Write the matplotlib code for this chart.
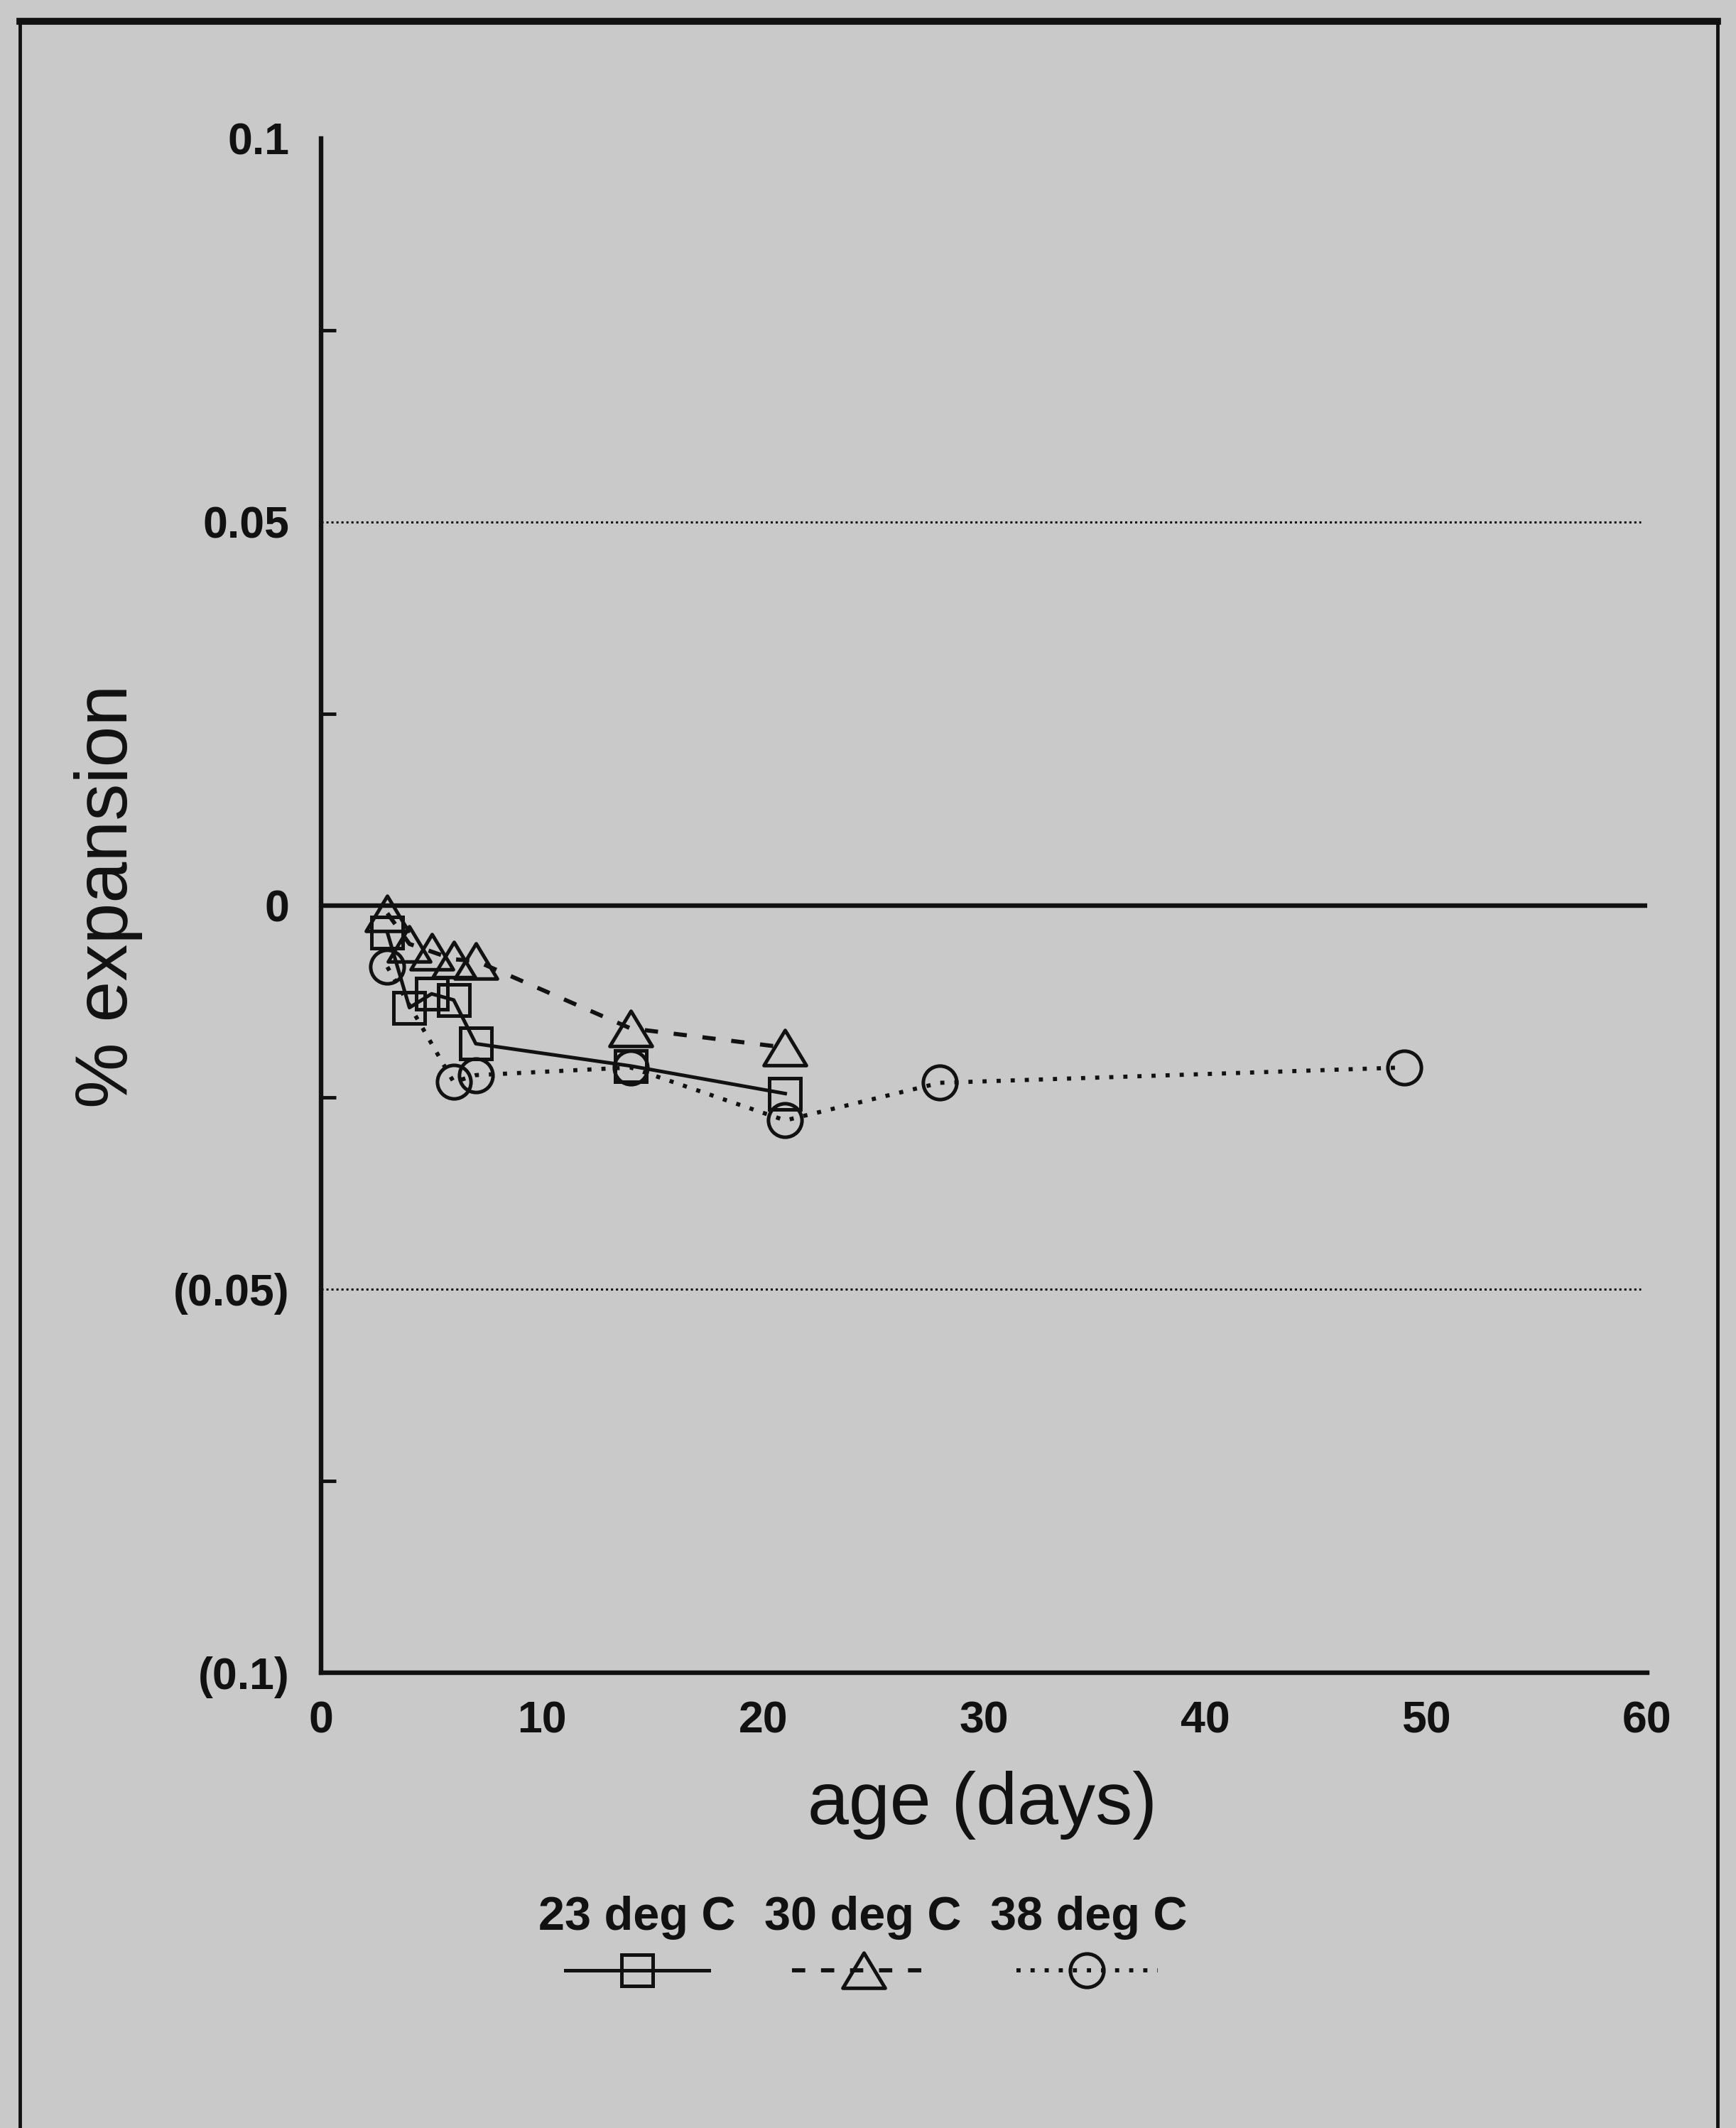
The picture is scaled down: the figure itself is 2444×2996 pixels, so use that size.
import matplotlib
matplotlib.use("Agg")
import matplotlib.pyplot as plt
from matplotlib.lines import Line2D
from matplotlib.path import Path

plt.rcParams['font.family'] = ['Liberation Sans', 'DejaVu Sans']

# expansion readings (%), negative = shrinkage
days_23 = [3, 4, 5, 6, 7, 14, 21]
exp_23 = [-0.0035, -0.0133, -0.0115, -0.0123, -0.018, -0.0209, -0.0245]

days_30 = [3, 4, 5, 6, 7, 14, 21]
exp_30 = [-0.001, -0.005, -0.006, -0.007, -0.0072, -0.016, -0.0185]

days_38 = [3, 6, 7, 14, 21, 28, 49]
exp_38 = [-0.008, -0.023, -0.0221, -0.0211, -0.028, -0.0231, -0.0211]

series_labels = ['23 deg C', '30 deg C', '38 deg C']
ytick_vals = [-0.1, -0.05, 0, 0.05, 0.1]
ytick_text = ['(0.1)', '(0.05)', '0', '0.05', '0.1']
xtick_vals = [0, 10, 20, 30, 40, 50, 60]

BG = '#c9c9c9'
INK = '#111111'
W, H = 2444, 2996

tri = Path([(-1, -0.83), (1, -0.83), (0, 0.83), (-1, -0.83)], closed=True)

styles = [
    dict(ls='-', marker='s', ms=32, lw=3.6),
    dict(ls=(0, (3.2, 3.8)), marker=tri, ms=43, lw=4.2),
    dict(ls=(0, (1, 2.4)), marker='o', ms=34, lw=4.2),
]

fig = plt.figure(figsize=(W / 100, H / 100), dpi=100, facecolor=BG)

ax = fig.add_axes([452 / W, 1 - 2355 / H, (2319 - 452) / W, (2355 - 195) / H])
ax.set_facecolor(BG)

for (d, v), st in zip([(days_23, exp_23), (days_30, exp_30), (days_38, exp_38)], styles):
    ax.plot(d, v, color=INK, linestyle=st['ls'], lw=st['lw'], marker=st['marker'],
            ms=st['ms'], mfc='none', mec=INK, mew=3.6, clip_on=False)

# reference lines
ax.axhline(0, color=INK, lw=4.6)
for yv in (0.05, -0.05):
    ax.axhline(yv, xmax=0.995, color=INK, lw=2.2, ls=(0, (1, 1.3)))

ax.set_xlim(0, 60)
ax.set_ylim(-0.1, 0.1)

for s in ('top', 'right'):
    ax.spines[s].set_visible(False)
for s in ('left', 'bottom'):
    ax.spines[s].set_linewidth(4.6)
    ax.spines[s].set_color(INK)

ax.set_xticks(xtick_vals)
ax.set_xticks([10, 20, 30, 40, 50], minor=True)
ax.set_yticks(ytick_vals)
ax.set_yticklabels(ytick_text)
ax.set_yticks([-0.075, -0.025, 0.025, 0.075], minor=True)

ax.tick_params(axis='both', which='major', length=0, labelsize=45, colors=INK)
ax.tick_params(axis='x', which='major', pad=28)
ax.tick_params(axis='y', which='major', pad=32)
ax.tick_params(axis='x', which='minor', direction='in', length=29, width=3.5, colors=INK)
ax.tick_params(axis='y', which='minor', direction='in', length=15, width=3.5, colors=INK)
for t in ax.get_xticklabels() + ax.get_yticklabels():
    t.set_fontweight('bold')

fig.text(153 / W, 1 - 1262 / H, '% expansion', rotation=90, ha='center', va='center',
         fontsize=75, color=INK)
fig.text(1383 / W, 1 - 2541 / H, 'age (days)', ha='center', va='center',
         fontsize=75, color=INK)

# legend: label above each sample line
label_x = [897, 1215, 1533]
sample_span = [(796, 998), (1115, 1316), (1431, 1630)]
for lab, lx, (x0, x1), st in zip(series_labels, label_x, sample_span, styles):
    fig.text(lx / W, 1 - 2700 / H, lab, ha='center', va='center', fontsize=48,
             fontweight='bold', color=INK)
    xs = [x0 / W, (x0 + x1) / 2 / W, x1 / W]
    ys = [1 - 2774 / H] * 3
    fig.lines.append(Line2D(xs, ys, transform=fig.transFigure, color=INK,
                            linestyle=st['ls'], lw=st['lw'], marker=st['marker'],
                            ms=st['ms'], mfc='none', mec=INK, mew=3.6, markevery=[1]))

# page frame
fx0, fx1, fy0 = 28 / W, 2418 / W, 1 - 30 / H
fig.lines.append(Line2D([fx0, fx1], [fy0, fy0], transform=fig.transFigure, color=INK, lw=7))
fig.lines.append(Line2D([fx0, fx0], [fy0, 0], transform=fig.transFigure, color=INK, lw=3.5))
fig.lines.append(Line2D([fx1, fx1], [fy0, 0], transform=fig.transFigure, color=INK, lw=3.5))

fig.savefig('out.png', dpi=100, facecolor=BG)
